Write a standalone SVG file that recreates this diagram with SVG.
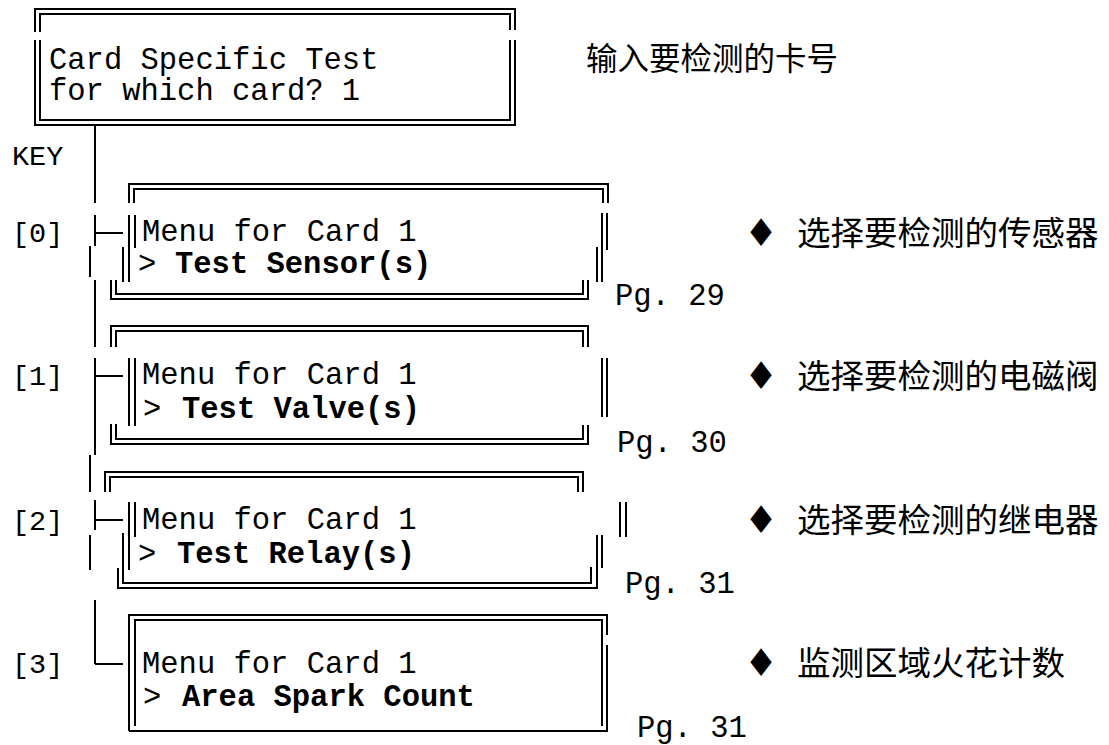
<svg xmlns="http://www.w3.org/2000/svg" width="1109" height="745" viewBox="0 0 1109 745">
<style>
.ln{stroke:#000;stroke-width:2;fill:none;shape-rendering:crispEdges}
.mono{font-family:"Courier New","Nimbus Mono PS","FreeMono","Liberation Mono",monospace;font-size:30.5px;fill:#000}
.key{font-family:"Courier New","Nimbus Mono PS","FreeMono","Liberation Mono",monospace;font-size:28.5px;fill:#000}
.b{font-weight:bold}
.cn{font-family:"Noto Sans CJK SC","Noto Sans",sans-serif;font-size:33.5px;fill:#000}
.cn0{font-family:"Noto Sans CJK SC","Noto Sans",sans-serif;font-size:31.5px;fill:#000}
.dia{font-family:"DejaVu Sans",sans-serif;font-size:38px;fill:#000}
</style>
<rect width="1109" height="745" fill="#fff"/>

<g id="connectors" class="ln">
<path d="M95 125V203M95 215V246M90 246V277M95 280V347M95 358V455M90 455V492M95 500V530M90 535V570M95 600V664"/>
<path d="M95 233H123M95 376H123M95 520H123M95 664H123"/>
</g>

<g id="top-box">
<path class="ln" d="M35 32V9H515V30M40 32V14H510V30M35 40V125H515V40M40 40V120H510V40"/>
<text class="mono" x="49" y="69">Card Specific Test</text>
<text class="mono" x="49" y="100">for which card? 1</text>
</g>
<g id="top-note"><text class="cn0" x="586" y="70">输入要检测的卡号</text></g>
<g id="key"><text class="key" x="12" y="165">KEY</text></g>

<g id="menu0">
<path class="ln" d="M129 203V184H608V203M134 203V189H603V203M129 215V248M135 215V248M123 247V282M129 247V282M111 280V299H588V280M116 280V294H583V280M602 213V250M607 213V250M597 247V282M602 247V282"/>
<text class="key" x="12" y="242">[0]</text>
<text class="mono" x="142" y="241">Menu for Card 1</text>
<text class="mono" x="138" y="273">&gt;<tspan class="b" x="175">Test Sensor(s)</tspan></text>
<text class="mono" x="615" y="305">Pg. 29</text>
<text x="744" y="246"><tspan class="dia">♦</tspan><tspan class="cn" x="797" y="245">选择要检测的传感器</tspan></text>
</g>

<g id="menu1">
<path class="ln" d="M111 347V326H588V347M116 347V331H583V347M129 358V426M135 358V426M111 424V444H588V425M116 424V439H583V425M602 358V417M607 358V417"/>
<text class="key" x="12" y="385">[1]</text>
<text class="mono" x="142" y="384">Menu for Card 1</text>
<text class="mono" x="143" y="418">&gt;<tspan class="b" x="182">Test Valve(s)</tspan></text>
<text class="mono" x="617" y="452">Pg. 30</text>
<text x="744" y="389"><tspan class="dia">♦</tspan><tspan class="cn" x="797" y="388">选择要检测的电磁阀</tspan></text>
</g>

<g id="menu2">
<path class="ln" d="M105 492V472H583V492M110 492V477H578V492M129 502V537M135 502V537M123 533V570M129 533V570M118 568V588H597V567M123 568V583H591V567M620 502V537M626 502V537M597 535V568M602 535V568"/>
<text class="key" x="12" y="530">[2]</text>
<text class="mono" x="142" y="529">Menu for Card 1</text>
<text class="mono" x="138" y="563">&gt;<tspan class="b" x="177">Test Relay(s)</tspan></text>
<text class="mono" x="625" y="593">Pg. 31</text>
<text x="744" y="533"><tspan class="dia">♦</tspan><tspan class="cn" x="797" y="532">选择要检测的继电器</tspan></text>
</g>

<g id="menu3">
<path class="ln" d="M129 731V615H607V635M135 726V620H602V726M607 645V731H129"/>
<text class="key" x="12" y="673">[3]</text>
<text class="mono" x="142" y="673">Menu for Card 1</text>
<text class="mono" x="143" y="706">&gt;<tspan class="b" x="182">Area Spark Count</tspan></text>
<text class="mono" x="637" y="737">Pg. 31</text>
<text x="744" y="676"><tspan class="dia">♦</tspan><tspan class="cn" x="797" y="675">监测区域火花计数</tspan></text>
</g>
</svg>
